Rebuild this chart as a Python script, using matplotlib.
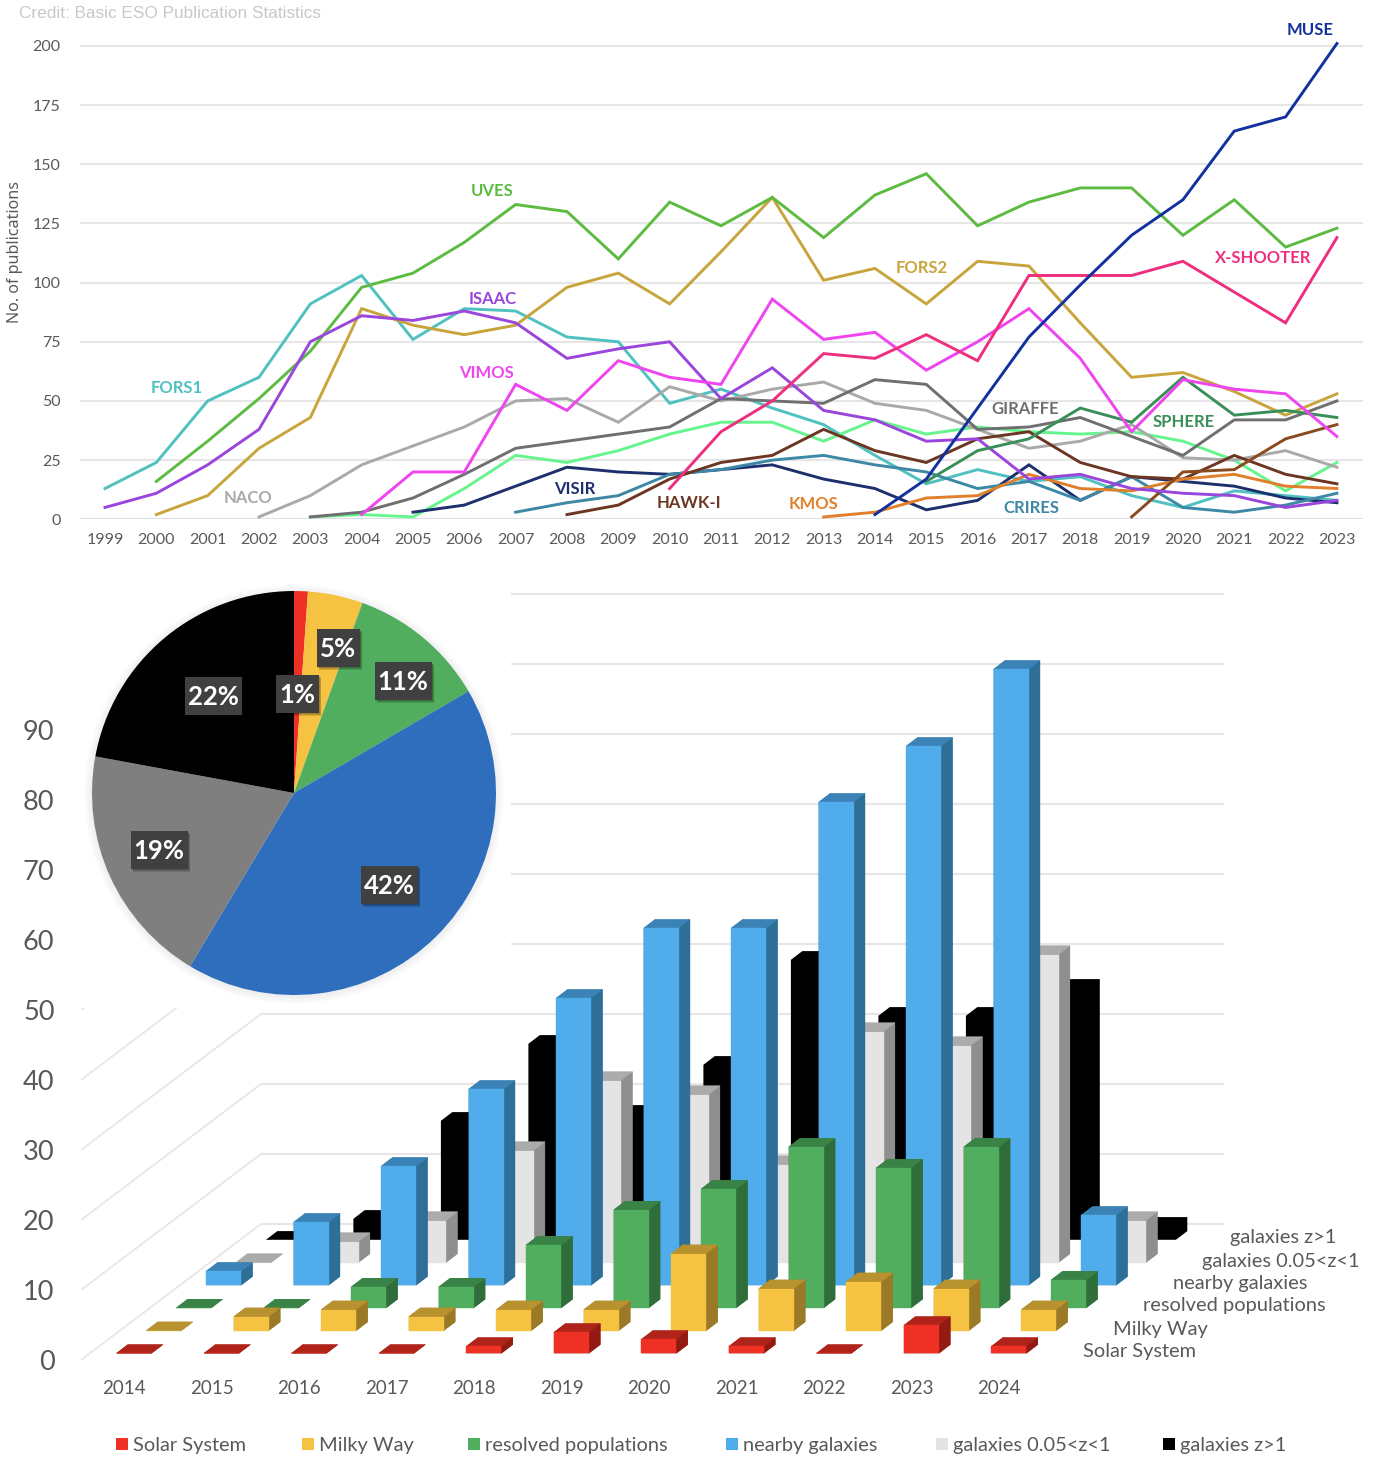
import numpy as np
import matplotlib
matplotlib.use("Agg")
import matplotlib.pyplot as plt
from matplotlib.patches import Polygon, Rectangle, Circle

W, H = 1373, 1459

# ---------- line chart data ----------
years = list(range(1999, 2024))
FORS1 = [13, 24, 50, 60, 91, 103, 76, 89, 88, 77, 75, 49, 55, 47, 40, 27, 15, 21, 16, 18, 10, 5, 12, 10, 8]
ISAAC = [5, 11, 23, 38, 75, 86, 84, 88, 83, 68, 72, 75, 51, 64, 46, 42, 33, 34, 17, 19, 13, 11, 10, 5, 8]
UVES = [16, 33, 51, 71, 98, 104, 117, 133, 130, 110, 134, 124, 136, 119, 137, 146, 124, 134, 140, 140, 120, 135, 115, 123]
FORS2 = [2, 10, 30, 43, 89, 82, 78, 82, 98, 104, 91, 113, 136, 101, 106, 91, 109, 107, 83, 60, 62, 54, 44, 53]
NACO = [1, 10, 23, 31, 39, 50, 51, 41, 56, 50, 55, 58, 49, 46, 38, 30, 33, 40, 26, 25, 29, 22]
GIRAFFE = [1, 3, 9, 19, 30, 33, 36, 39, 51, 50, 49, 59, 57, 38, 39, 43, 35, 27, 42, 42, 50]
FLAMES = [1, 2, 1, 13, 27, 24, 29, 36, 41, 41, 33, 42, 36, 39, 37, 36, 37, 33, 25, 12, 24]
VIMOS = [2, 20, 20, 57, 46, 67, 60, 57, 93, 76, 79, 63, 75, 89, 68, 37, 59, 55, 53, 35]
VISIR = [3, 6, 14, 22, 20, 19, 21, 23, 17, 13, 4, 8, 23, 8, 18, 16, 14, 9, 7]
CRIRES = [3, 7, 10, 19, 21, 25, 27, 23, 20, 13, 16, 8, 18, 5, 3, 6, 11]
HAWKI = [2, 6, 17, 24, 27, 38, 29, 24, 34, 37, 24, 18, 17, 27, 19, 15]
XSHOOTER = [13, 37, 50, 70, 68, 78, 67, 103, 103, 103, 109, 96, 83, 119]
KMOS = [1, 3, 9, 10, 19, 13, 12, 17, 19, 14, 13]
MUSE = [2, 17, 47, 77, 99, 120, 135, 164, 170, 201]
SPHERE = [16, 29, 34, 47, 41, 60, 44, 46, 43]
ESPRESSO = [1, 20, 21, 34, 40]

line_series = [
    (1999, FORS1, "#4FC1C0"), (2003, FLAMES, "#66F58C"), (2002, NACO, "#A9A9A9"),
    (2003, GIRAFFE, "#6F6F6F"), (2005, VISIR, "#1E2F6E"), (2007, CRIRES, "#3C88A6"),
    (2008, HAWKI, "#6C3622"), (2013, KMOS, "#E0802C"), (2019, ESPRESSO, "#8A4A20"),
    (2000, FORS2, "#C8A53C"), (2000, UVES, "#5CBB40"), (1999, ISAAC, "#9A45DC"),
    (2015, SPHERE, "#3A8F58"), (2004, VIMOS, "#EE45EE"), (2010, XSHOOTER, "#EE2E7E"),
    (2014, MUSE, "#12319F"),
]
line_labels = ["MUSE", "X-SHOOTER", "UVES", "FORS2", "ISAAC", "FORS1", "VIMOS", "NACO",
               "GIRAFFE", "SPHERE", "VISIR", "HAWK-I", "KMOS", "CRIRES"]
line_label_colors = ["#12319F", "#EE2E7E", "#5CBB40", "#C8A53C", "#9A45DC", "#4FC1C0", "#EE45EE", "#A9A9A9",
                     "#6F6F6F", "#3A8F58", "#1E2F6E", "#6C3622", "#E0802C", "#3C88A6"]
line_label_pos = [(1310, 30), (1263, 258), (492, 191), (922, 268), (493, 299), (177, 388), (486, 373), (248, 498),
                  (1025, 409), (1184, 422), (575, 489), (689, 503), (813, 504), (1031, 508)]

# ---------- pie data ----------
pie_values = [1.1, 4.4, 11.1, 42.0, 19.3, 22.1]
pie_labels = ["1%", "5%", "11%", "42%", "19%", "22%"]
pie_colors = ["#EE3124", "#F5C242", "#50AE5E", "#2E6EBC", "#7F7F7F", "#000000"]
pie_label_pos = [(297, 694), (338, 648), (403, 681), (389, 885), (159, 850), (213, 696)]

# ---------- 3D bar data ----------
bar_years = ["2014", "2015", "2016", "2017", "2018", "2019", "2020", "2021", "2022", "2023", "2024"]
categories = ["Solar System", "Milky Way", "resolved populations", "nearby galaxies", "galaxies 0.05<z<1", "galaxies z>1"]
solar = [0, 0, 0, 0, 1, 3, 2, 1, 0, 4, 1]
milky = [0, 2, 3, 2, 3, 3, 11, 6, 7, 6, 3]
resolved = [0, 0, 3, 3, 9, 14, 17, 23, 20, 23, 4]
nearby = [2, 9, 17, 28, 41, 51, 51, 69, 77, 88, 10]
mid_z = [0, 3, 6, 16, 26, 24, 14, 33, 31, 44, 6]
high_z = [0, 3, 17, 28, 18, 25, 40, 32, 32, 36, 2]
bar_series = [solar, milky, resolved, nearby, mid_z, high_z]
bar_ticks = [0, 10, 20, 30, 40, 50, 60, 70, 80, 90]
front_col = ["#EE3124", "#F5C242", "#50AE5E", "#50ACEB", "#E4E4E4", "#000000"]
top_col = ["#B02318", "#B8922E", "#3A8346", "#3B83B6", "#ABABAB", "#000000"]
side_col = ["#921A12", "#9A7A26", "#2F6E3A", "#2E6F98", "#8F8F8F", "#000000"]

TXT = "#595959"
GRID = "#E6E6E6"
FONT = "Lato"


def ax_px(x0, y0, x1, y1, **kw):
    return fig.add_axes([x0 / W, 1 - y1 / H, (x1 - x0) / W, (y1 - y0) / H], **kw)


fig = plt.figure(figsize=(W / 100, H / 100), dpi=100, facecolor="white")

# main canvas in pixel coordinates
main = ax_px(0, 0, W, H)
main.set_xlim(0, W)
main.set_ylim(H, 0)
main.axis("off")

# ---------- 3D chart ----------
PX = 7.0
X0, DXY, DXR = 116.4, 87.5, 29.9
Y0, DYR = 1353.3, 22.7
BW, DX, DY = 35.0, 11.4, 8.7
FLOOR_L, FLOOR_R, WALL_R = 81, 261, 1224
FRONT0, BACK0 = 1360, 1224

for v in bar_ticks:
    yb = BACK0 - PX * v
    yf = FRONT0 - PX * v
    main.plot([FLOOR_L, FLOOR_R], [yf, yb], color=GRID, lw=1.2, zorder=1, solid_capstyle="butt")
    main.plot([FLOOR_R, WALL_R], [yb, yb], color=GRID, lw=1.5, zorder=1, solid_capstyle="butt")
    main.text(54.5, yf + 2, str(v), ha="right", va="center", fontsize=19.5, color=TXT, family=FONT)

# white panel of the inset pie hides the upper part of the grid
main.add_patch(Rectangle((60, 570), 451, 438, facecolor="white", edgecolor="none", zorder=2))

z = 3
for row in range(5, -1, -1):
    vals = bar_series[row]
    for i, val in enumerate(vals):
        x = X0 + DXY * i + DXR * row
        b = Y0 - DYR * row
        t = b - PX * val
        # silhouette closes the anti-aliased seams between the faces
        main.add_patch(Polygon([(x, b), (x + BW, b), (x + BW + DX, b - DY), (x + BW + DX, t - DY),
                                (x + DX, t - DY), (x, t)],
                               facecolor=side_col[row], edgecolor="none", zorder=z))
        if row < 5:
            main.add_patch(Polygon([(x + BW, b), (x + BW + DX, b - DY), (x + BW + DX, t - DY), (x + BW, t)],
                                   facecolor=side_col[row], edgecolor=side_col[row], lw=0.3, zorder=z))
            main.add_patch(Polygon([(x, t), (x + BW, t), (x + BW + DX, t - DY), (x + DX, t - DY)],
                                   facecolor=top_col[row], edgecolor=top_col[row], lw=0.3, zorder=z))
            main.add_patch(Rectangle((x, t), BW, b - t, facecolor=front_col[row], edgecolor=front_col[row],
                                     lw=0.3, zorder=z))
        z += 0.01

for i, y in enumerate(bar_years):
    main.text(124 + 87.5 * i, 1389, y, ha="center", va="center", fontsize=13.5, color=TXT, family=FONT)

row_label_x = [1083, 1113, 1143, 1173, 1202, 1230]
row_label_y = [1352, 1329, 1306, 1284, 1261, 1238]
for c, lx, ly in zip(categories, row_label_x, row_label_y):
    main.text(lx, ly, c, ha="left", va="center", fontsize=14.4, color=TXT, family=FONT)

legend_x = [116, 302, 468, 726, 936, 1163]
for c, col, lx in zip(categories, front_col, legend_x):
    main.add_patch(Rectangle((lx, 1438), 12, 12, facecolor=col, edgecolor="none", zorder=3))
    main.text(lx + 17, 1446, c, ha="left", va="center", fontsize=14.4, color=TXT, family=FONT)

# ---------- line chart ----------
top = ax_px(80, 20, 1363, 519.3)
top.patch.set_alpha(0)
px_per_unit = 2.367
top.set_ylim(0, (519.3 - 20) / px_per_unit)
top.set_xlim(1999 - 25 / 51.33, 1999 + (1363 - 105) / 51.33)
for s in top.spines.values():
    s.set_visible(False)
top.set_yticks(range(0, 201, 25))
top.set_xticks(years)
top.set_xticklabels([str(y) for y in years], fontsize=11.5, color=TXT, family=FONT)
top.set_yticklabels([str(v) for v in range(0, 201, 25)], fontsize=11.5, color=TXT, family=FONT)
top.tick_params(length=0, pad=10, axis="x")
top.tick_params(length=0, pad=14, axis="y")
top.grid(axis="y", color=GRID, lw=1.5)
top.axhline(0, color="#D8DEEC", lw=1.8, zorder=1.5)
top.set_axisbelow(True)
for start, vals, col in line_series:
    xs = [start + k for k in range(len(vals))]
    top.plot(xs, vals, color=col, lw=2.1, solid_joinstyle="miter", clip_on=False, zorder=3)

for t, col, (lx, ly) in zip(line_labels, line_label_colors, line_label_pos):
    main.text(lx, ly, t, ha="center", va="center", fontsize=12, fontweight="bold", color=col, family=FONT, zorder=30)

main.text(19, 14, "Credit: Basic ESO Publication Statistics", ha="left", va="center", fontsize=12.4,
          color="#C8C8C8", family="Liberation Sans")
main.text(15, 252, "No. of publications", rotation=90, ha="center", va="center", fontsize=11.6,
          color=TXT, family="Noto Sans")

# ---------- pie ----------
R = 202.0
CX, CY = 294.0, 793.0
HALF = 222.0
pie = ax_px(CX - HALF, CY - HALF, CX + HALF, CY + HALF)
pie.patch.set_alpha(0)
for k in range(8):
    pie.add_patch(Circle((0.0, -0.005), 1 + 0.005 * (8 - k), facecolor="black", edgecolor="none", alpha=0.008, zorder=0))
pie.pie(pie_values, colors=pie_colors, startangle=90, counterclock=False, radius=1.0)
pie.set_xlim(-HALF / R, HALF / R)
pie.set_ylim(-HALF / R, HALF / R)
pie.set_aspect("equal")

for t, (lx, ly) in zip(pie_labels, pie_label_pos):
    lx_ax = (lx - CX) / R
    ly_ax = (CY - ly) / R
    bw = (43 if len(t) == 2 else 57) / R
    bh = 38 / R
    for off in (0.014, 0.010, 0.006):
        pie.add_patch(Rectangle((lx_ax - bw / 2 + off, ly_ax - bh / 2 - off), bw, bh, facecolor="black",
                                alpha=0.13, edgecolor="none", zorder=9))
    pie.add_patch(Rectangle((lx_ax - bw / 2, ly_ax - bh / 2), bw, bh, facecolor="#404040", edgecolor="none", zorder=10))
    pie.text(lx_ax, ly_ax - 1 / R, t, ha="center", va="center", fontsize=18.5, fontweight="bold",
             color="white", family=FONT, zorder=11)

fig.savefig("out.png", dpi=100, facecolor="white")
